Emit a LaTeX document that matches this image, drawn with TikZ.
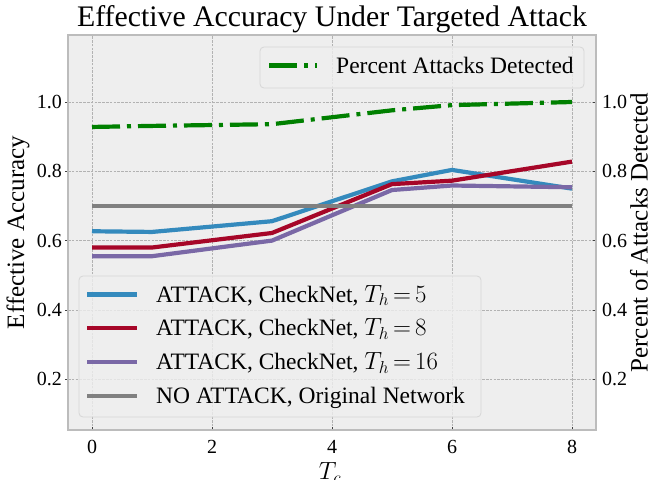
\documentclass[tikz,border=0pt]{standalone}
\usepackage{fontspec}
\setmainfont{Liberation Serif}
\usetikzlibrary{positioning}
\definecolor{atkblue}{HTML}{348ABD}
\definecolor{atkred}{HTML}{A60628}
\definecolor{atkpurple}{HTML}{7A68A6}
\definecolor{detgreen}{HTML}{008000}
\definecolor{basegray}{HTML}{808080}
\definecolor{panelgray}{HTML}{EEEEEE}
\definecolor{spinegray}{HTML}{BCBCBC}
\definecolor{gridgray}{HTML}{B2B2B2}

\begin{document}
\begin{tikzpicture}[x=1pt, y=-1pt, node distance=19pt,
        curve/.style={line width=4.2pt, line join=round},
        dashdot/.style={dash pattern=on 28pt off 7pt on 4pt off 7pt},
        gridline/.style={draw=gridgray, line width=0.7pt, dash pattern=on 2.6pt off 1.2pt},
        tickmark/.style={draw=black!75, line width=0.8pt},
        ticklabel/.style={font=\fontsize{20}{22}\selectfont, inner sep=0pt},
        axislabel/.style={font=\fontsize{25}{27}\selectfont, inner sep=0pt},
        legendbox/.style={draw=black!16, fill=panelgray, fill opacity=0.8, rounded corners=4pt, line width=0.8pt},
        legendtext/.style={font=\fontsize{23.5}{25}\selectfont, inner sep=0pt, text height=15.5pt, text depth=0pt}]

    \useasboundingbox (0,0) rectangle (652,479);
    \fill[white] (0,0) rectangle (652,479);

    \node[font=\fontsize{29.8}{32}\selectfont, anchor=base, inner sep=0pt] (title) at (332,26.5) {Effective Accuracy Under Targeted Attack};

    \begin{scope}[shift={(92,448.5)}, x=60pt, y=346.5pt]
        \fill[panelgray] (-0.4,0.053) rectangle (8.4,1.193);
        % grid
        \foreach \t in {0,2,...,8}
            \draw[gridline] (\t,0.053) -- (\t,1.193);
        \foreach \v in {0.2,0.4,0.6,0.8,1.0}
            \draw[gridline] (-0.4,\v) -- (8.4,\v);
        % ticks
        \foreach \t in {0,2,...,8} {
            \draw[tickmark] (\t,0.053) -- ++(0pt,3.5pt);
            \node[ticklabel, anchor=base] (xtick\t) at (\t,-0.0144) {\t};
        }
        \foreach \v [count=\i] in {0.2,0.4,0.6,0.8,1.0} {
            \draw[tickmark] (-0.4,\v) -- ++(-3.5pt,0pt);
            \draw[tickmark] (8.4,\v) -- ++(-3.5pt,0pt);
            \node[ticklabel, anchor=east] (lefttick\i) at ([xshift=-6pt]-0.4,\v) {\v};
            \node[ticklabel, anchor=west] (righttick\i) at ([xshift=6pt]8.4,\v) {\v};
        }
        % curves
        \draw[curve, atkblue] (0,0.627) -- (1,0.625) -- (3,0.656) -- (5,0.771) -- (6,0.804) -- (8,0.750);
        \draw[curve, atkred] (0,0.580) -- (1,0.580) -- (3,0.622) -- (5,0.763) -- (6,0.773) -- (8,0.828);
        \draw[curve, atkpurple] (0,0.555) -- (1,0.555) -- (3,0.600) -- (5,0.746) -- (6,0.759) -- (8,0.754);
        \draw[curve, basegray] (0,0.700) -- (8,0.700);
        \draw[curve, detgreen, dashdot] (0,0.928) -- (1,0.931) -- (3,0.936) -- (5,0.976) -- (6,0.991) -- (8,1.000);
        \draw[draw=spinegray, line width=1.4pt] (-0.4,0.053) rectangle (8.4,1.193);
    \end{scope}

    \node[axislabel, rotate=90] (ylabel) at (18,232.5) {Effective Accuracy};
    \node[axislabel, rotate=90] (ylabelright) at (639,232.5) {Percent of Attacks Detected};
    \node[axislabel, anchor=base] (xlabel) at (330,479.5) {$T_c$};

    % legends
    \draw[legendbox] (260,47) rectangle (584,88);
    \coordinate (dets) at (269,65.5);
    \coordinate (dete) at (317,65.5);
    \draw[curve, detgreen, dashdot] (dets) -- (dete);
    \node[legendtext, right=of dete] (detlegend) {Percent Attacks Detected};

    \draw[legendbox] (79,276) rectangle (481,417);
    \foreach \col/\lab [count=\i] in {atkblue/{ATTACK, CheckNet, $T_h\,{=}\,5$},
            atkred/{ATTACK, CheckNet, $T_h\,{=}\,8$},
            atkpurple/{ATTACK, CheckNet, $T_h\,{=}\,16$},
            basegray/{NO ATTACK, Original Network}} {
        \coordinate (ls\i) at (87,{260.8+33.7*\i});
        \coordinate (le\i) at (137,{260.8+33.7*\i});
        \draw[curve, \col] (ls\i) -- (le\i);
        \node[legendtext, right=of le\i] (leg\i) {\lab};
    }
\end{tikzpicture}
\end{document}
